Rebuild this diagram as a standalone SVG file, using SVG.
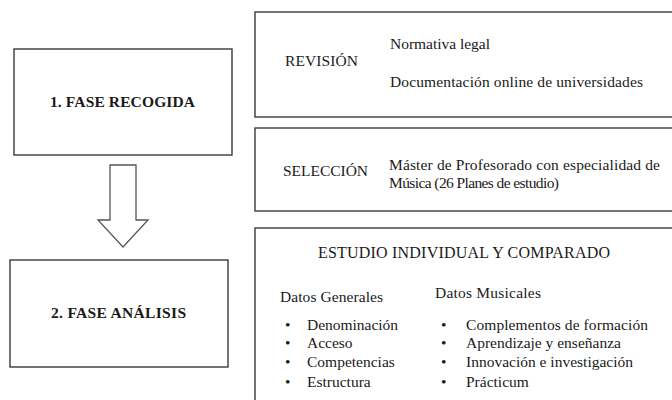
<svg xmlns="http://www.w3.org/2000/svg" width="672" height="400" viewBox="0 0 672 400" font-family="Liberation Serif, DejaVu Serif, serif">
<style>
.box{fill:#ffffff;stroke:#3a3a3a;stroke-width:1.4}
.t{font-size:15.5px;fill:#1a1a1a}
.b{font-weight:bold}
.h{font-size:16px}
</style>
<rect width="672" height="400" fill="#ffffff"/>
<g id="fase-recogida">
<rect class="box" x="14" y="49" width="218" height="106"/>
<text class="t b" x="50" y="107" textLength="145">1. FASE RECOGIDA</text>
</g>
<g id="fase-analisis">
<rect class="box" x="10" y="260" width="218" height="107"/>
<text class="t b" x="51" y="318" textLength="135">2. FASE ANÁLISIS</text>
</g>
<g id="connectors">
<path d="M110 165 H136 V220 H148 L123 247 L98 220 H110 Z" fill="#ffffff" stroke="#555555" stroke-width="1.3" stroke-linejoin="miter"/>
</g>
<g id="revision">
<rect class="box" x="255" y="12" width="430" height="105"/>
<text class="t" x="285" y="66" textLength="73">REVISIÓN</text>
<text class="t" x="390" y="49" textLength="100">Normativa legal</text>
<text class="t" x="390" y="87" textLength="253">Documentación online de universidades</text>
</g>
<g id="seleccion">
<rect class="box" x="255" y="128" width="430" height="83"/>
<text class="t" x="283" y="176" textLength="85">SELECCIÓN</text>
<text class="t" x="389" y="170" textLength="271">Máster de Profesorado con especialidad de</text>
<text class="t" x="389" y="188" textLength="170">Música (26 Planes de estudio)</text>
</g>
<g id="estudio">
<rect class="box" x="255" y="228" width="430" height="190"/>
<text class="t h" x="318" y="258" textLength="292">ESTUDIO INDIVIDUAL Y COMPARADO</text>
<text class="t" x="280" y="302" textLength="103">Datos Generales</text>
<text class="t" x="285" y="330">•</text>
<text class="t" x="307" y="330" textLength="91">Denominación</text>
<text class="t" x="285" y="348">•</text>
<text class="t" x="307" y="348">Acceso</text>
<text class="t" x="285" y="367">•</text>
<text class="t" x="307" y="367">Competencias</text>
<text class="t" x="285" y="387">•</text>
<text class="t" x="307" y="387">Estructura</text>
<text class="t" x="435" y="298" textLength="106">Datos Musicales</text>
<text class="t" x="441" y="330">•</text>
<text class="t" x="466" y="330" textLength="182">Complementos de formación</text>
<text class="t" x="441" y="348">•</text>
<text class="t" x="466" y="348">Aprendizaje y enseñanza</text>
<text class="t" x="441" y="367">•</text>
<text class="t" x="466" y="367">Innovación e investigación</text>
<text class="t" x="441" y="387">•</text>
<text class="t" x="466" y="387">Prácticum</text>
</g>
</svg>
